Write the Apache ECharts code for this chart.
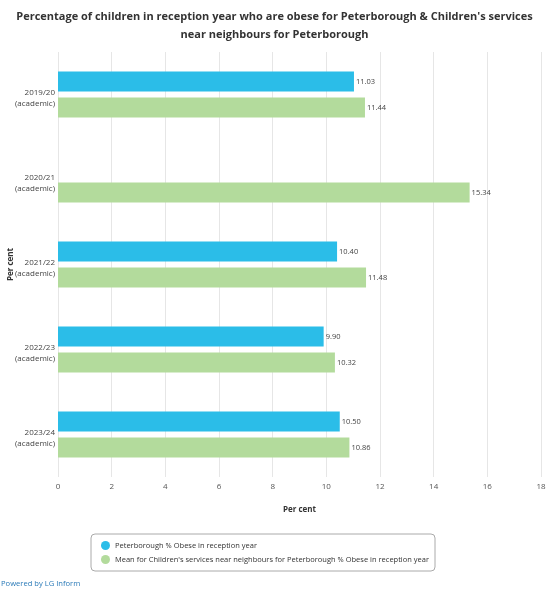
<!DOCTYPE html>
<html>
<head>
<meta charset="utf-8">
<script src="https://cdn.jsdelivr.net/npm/echarts@6/dist/echarts.min.js"></script>
<style>
  html, body { margin: 0; padding: 0; background: #fff; }
  #chart { width: 549px; height: 590px; }
  #powered { position: absolute; left: 1px; top: 578px; font: 7.6px "Open Sans", sans-serif; color: #2a7ab8; }
</style>
</head>
<body>
<div id="chart"></div>
<div id="powered">Powered by LG Inform</div>
<script>
// categories, top to bottom
var periods = ['2019/20\n(academic)', '2020/21\n(academic)', '2021/22\n(academic)', '2022/23\n(academic)', '2023/24\n(academic)'];
var peterborough = [11.03, null, 10.40, 9.90, 10.50];
var neighbours = [11.44, 15.34, 11.48, 10.32, 10.86];
var xTicks = [0, 18, 2];

var font = '"Open Sans", sans-serif';
var chart = echarts.init(document.getElementById('chart'));

function barLabel() {
	return {
		show: true,
		position: 'right',
		distance: 2,
		fontFamily: font,
		fontSize: 7.5,
		color: '#444',
		formatter: function(p) {
			return p.value == null ? '' : p.value.toFixed(2);
		}
	};
}

chart.setOption({
	animation: false,
	textStyle: { fontFamily: font },
	title: {
		text: "Percentage of children in reception year who are obese for Peterborough & Children's services\nnear neighbours for Peterborough",
		left: 'center',
		top: 3,
		textStyle: { fontFamily: font, fontSize: 11, fontWeight: 'bold', color: '#333', lineHeight: 18 }
	},
	grid: { left: 58, right: 8, top: 52, bottom: 113, outerBoundsMode: 'none', containLabel: false },
	xAxis: {
		type: 'value',
		min: xTicks[0],
		max: xTicks[1],
		interval: xTicks[2],
		name: 'Per cent',
		nameLocation: 'middle',
		nameGap: 29,
		nameTextStyle: { fontFamily: font, fontSize: 8, fontWeight: 'bold', color: '#333' },
		axisLine: { show: false },
		axisTick: { show: false },
		axisLabel: { fontFamily: font, fontSize: 8, color: '#555', margin: 6 },
		splitLine: { lineStyle: { color: '#e6e6e6' } }
	},
	yAxis: {
		type: 'category',
		data: periods,
		inverse: true,
		name: 'Per cent',
		nameLocation: 'middle',
		nameGap: 43,
		nameMoveOverlap: false,
		nameTextStyle: { fontFamily: font, fontSize: 8, fontWeight: 'bold', color: '#333' },
		axisLine: { show: false },
		axisTick: { show: false },
		axisLabel: {
			fontFamily: font,
			fontSize: 8,
			color: '#444',
			margin: 3,
			// labels sit a little below the band centre
			formatter: function(v) {
				var parts = v.split('\n');
				return '{t|' + parts[0] + '}\n{b|' + parts[1] + '}';
			},
			rich: {
				t: { fontFamily: font, fontSize: 8, color: '#444', lineHeight: 18, verticalAlign: 'bottom' },
				b: { fontFamily: font, fontSize: 8, color: '#444', lineHeight: 13 }
			}
		}
	},
	legend: {
		orient: 'vertical',
		left: 91,
		top: 534,
		padding: [7, 6, 7, 10],
		itemGap: 5,
		itemWidth: 9,
		itemHeight: 9,
		icon: 'circle',
		borderColor: '#aaa',
		borderWidth: 1,
		borderRadius: 4,
		textStyle: { fontFamily: font, fontSize: 7.5, color: '#333' },
		data: ['Peterborough % Obese in reception year', "Mean for Children's services near neighbours for Peterborough % Obese in reception year"]
	},
	series: [
		{
			name: 'Peterborough % Obese in reception year',
			type: 'bar',
			data: peterborough,
			barWidth: 20,
			barGap: '30%',
			itemStyle: { color: '#2bbde8' },
			label: barLabel()
		},
		{
			name: "Mean for Children's services near neighbours for Peterborough % Obese in reception year",
			type: 'bar',
			data: neighbours,
			barWidth: 20,
			barGap: '30%',
			itemStyle: { color: '#b3db9c' },
			label: barLabel()
		}
	]
});
</script>
</body>
</html>
